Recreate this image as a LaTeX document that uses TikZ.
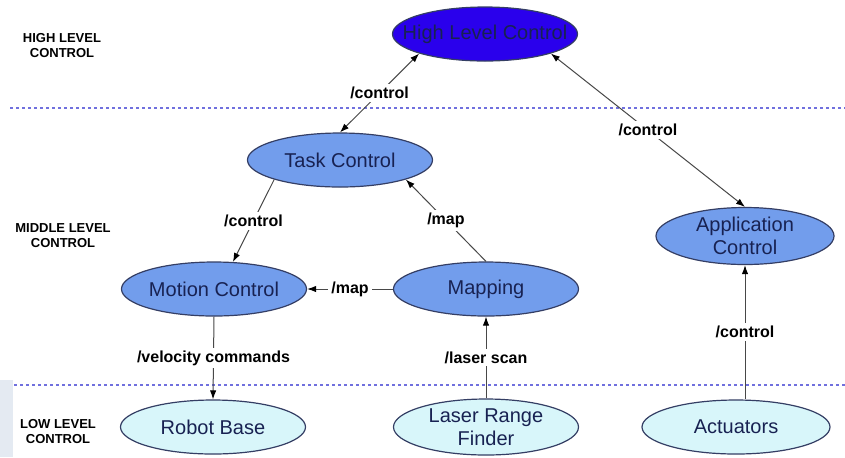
\documentclass[tikz,border=0pt]{standalone}
\usepackage{fontspec}
\setmainfont{Liberation Sans}
\usetikzlibrary{arrows.meta,shapes.geometric}
\definecolor{hiblue}{RGB}{42,0,236}
\definecolor{midblue}{RGB}{114,157,236}
\definecolor{locyan}{RGB}{216,246,250}
\definecolor{rimgray}{RGB}{52,62,100}
\definecolor{txtnavy}{RGB}{24,34,82}
\definecolor{argray}{RGB}{72,72,72}
\definecolor{sepblue}{RGB}{112,112,222}
\definecolor{bandgray}{RGB}{228,234,242}

\begin{document}
\begin{tikzpicture}[
  x=0.5pt, y=-0.5pt,
  e/.style={ellipse, draw=rimgray, line width=0.6pt, inner xsep=-12pt, inner ysep=-1pt,
    minimum width=92.5pt, minimum height=27pt, align=center, text=txtnavy,
    font=\fontsize{10}{11.5}\selectfont},
  hi/.style={e, fill=hiblue},
  mid/.style={e, fill=midblue},
  lo/.style={e, fill=locyan},
  a/.style={-{Latex[length=4.5pt,width=3.2pt,color=black]}, draw=argray, line width=0.5pt},
  aa/.style={{Latex[length=4.5pt,width=3.2pt,color=black]}-{Latex[length=4.5pt,width=3.2pt,color=black]}, draw=argray, line width=0.5pt},
  l/.style={fill=white, inner sep=1.5pt, font=\bfseries\fontsize{8}{9}\selectfont},
  lev/.style={align=center, font=\bfseries\fontsize{6.5}{7.5}\selectfont},
  sep/.style={draw=sepblue, line width=0.8pt, dash pattern=on 1.6pt off 1.4pt}
]
  \useasboundingbox[fill=white] (0,0) rectangle (845,457);
  \fill[bandgray] (0,380) rectangle (13,457);

  % level separators
  \draw[sep] (10,108) -- (845,108);
  \draw[sep] (14,385) -- (845,385);

  \node[lev] (lvhi) at (62,46) {HIGH LEVEL\\CONTROL};
  \node[lev] (lvmid) at (63,236) {MIDDLE LEVEL\\CONTROL};
  \node[lev] (lvlo) at (58,432) {LOW LEVEL\\CONTROL};

  \node[hi] (hlc) at (485,34) {High Level Control};
  \node[mid] (tc) at (340,160) {Task Control};
  \node[mid] (mc) at (214,289) {Motion Control};
  \node[mid] (map) at (486,289) {Mapping};
  \node[mid, minimum width=89pt, minimum height=28.5pt] (ac) at (745,236) {Application\\Control};
  \node[lo] (rb) at (213,427) {Robot Base};
  \node[lo, minimum height=28pt] (lrf) at (486,427) {Laser Range\\Finder};
  \node[lo, minimum width=94pt] (act) at (736,427) {Actuators};

  \draw[aa] (tc.north) -- node[l]{/control} (hlc.south west);
  \draw[aa] (hlc.south east) -- node[l]{/control} (ac.north);
  \draw[a] (tc.south west) -- node[l]{/control} (mc.55);
  \draw[a] (map.north) -- node[l]{/map} (tc.south east);
  \draw[a] (map.west) -- node[l]{/map} (mc.east);
  \draw[a] (mc.south) -- node[l]{/velocity commands} (rb.north);
  \draw[a] (lrf.north) -- node[l]{/laser scan} (map.south);
  \draw[a] (act.north -| ac.south) -- node[l]{/control} (ac.south);
\end{tikzpicture}
\end{document}
